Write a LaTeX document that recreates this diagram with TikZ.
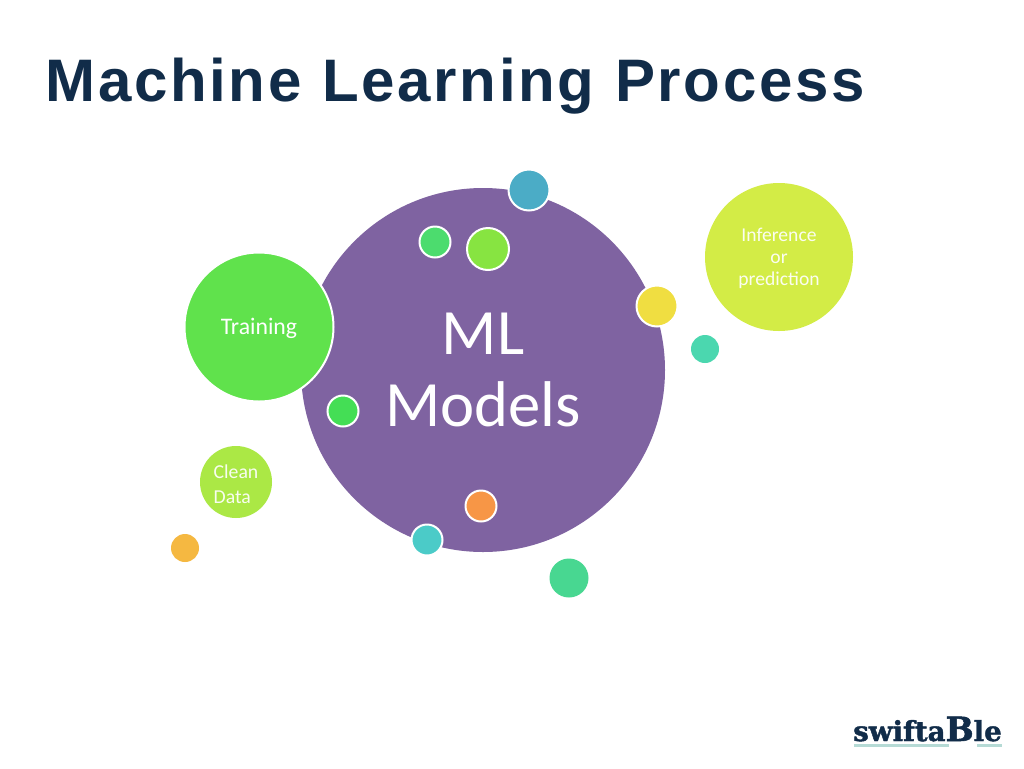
\documentclass[tikz,border=0pt]{standalone}
\usepackage{fontspec}
\setmainfont{Carlito}
\newfontfamily\titlefont[WordSpace=1.08]{Liberation Sans}
\newfontfamily\logofont[BoldFeatures={FakeBold=1.5}]{DejaVu Serif}
\usepackage{xcolor}
\definecolor{titleblue}{HTML}{112C49}
\definecolor{mlpurple}{HTML}{7F63A1}
\definecolor{trainc}{HTML}{60E24C}
\definecolor{cleanc}{HTML}{ABE845}
\definecolor{inferc}{HTML}{D3EC46}
\definecolor{logoline}{HTML}{B5DAD5}

\begin{document}
\begin{tikzpicture}[
  x=0.75pt, y=-0.75pt,
  bubble/.style={circle, inner sep=0pt, minimum size=#1*0.75pt},
  ring/.style={bubble=#1, draw=white, line width=1.5pt},
  caption/.style={align=center, inner sep=0pt, text=white}
]
\useasboundingbox[fill=white] (0,0) rectangle (1024,768);
\node[anchor=base west, font=\titlefont\bfseries\fontsize{45}{45}\selectfont, text=titleblue,
      inner sep=0pt] (title) at (45.5,101) {\addfontfeature{LetterSpace=4.4}Machine Learning Process};
% main bubble and the big ones
\node[bubble=364, fill=mlpurple] (ml) at (483,370) {};
\node[ring=149, fill=trainc] (train) at (259,327) {};
\node[bubble=72, fill=cleanc] (clean) at (236,482) {};
\node[bubble=148, fill=inferc] (infer) at (779,257) {};
% small bubbles
\node[ring=41, fill={rgb,255:red,75;green,172;blue,198}] (dotblue) at (529,190) {};
\node[ring=31, fill={rgb,255:red,76;green,220;blue,110}] (dotgreena) at (435,242) {};
\node[ring=42, fill={rgb,255:red,135;green,228;blue,65}] (dotlime) at (488,249) {};
\node[ring=41, fill={rgb,255:red,240;green,222;blue,65}] (dotyellow) at (657,306) {};
\node[ring=31, fill={rgb,255:red,68;green,222;blue,85}] (dotgreenb) at (343,411) {};
\node[ring=31, fill={rgb,255:red,247;green,150;blue,70}] (dotorange) at (481,506) {};
\node[ring=31, fill={rgb,255:red,75;green,203;blue,200}] (dotcyan) at (427,540) {};
\node[bubble=28, fill={rgb,255:red,245;green,184;blue,65}] (dotamber) at (185,548) {};
\node[bubble=28, fill={rgb,255:red,75;green,215;blue,175}] (dotteal) at (705,349) {};
\node[bubble=39, fill={rgb,255:red,72;green,215;blue,145}] (dotmint) at (569,578) {};
% text of the bubbles
\node[caption, font=\fontsize{48.5}{54}\selectfont] (mltext) at (483,369.5) {ML\\Models};
\node[caption, font=\fontsize{17.8}{19}\selectfont] (traintext) at (259,328) {Training};
\node[caption, font=\fontsize{14.8}{18.5}\selectfont, align=left, text=white!92!cleanc] (cleantext) at (236,484) {Clean\\Data};
\node[caption, font=\fontsize{14.7}{16.5}\selectfont, text=white!92!inferc] (infertext) at (779,258.5) {Inference\\or\\prediction};
% logo
\fill[logoline] (854,744) rectangle (949,747);
\fill[logoline] (977,744) rectangle (1002,747);
\node[anchor=base west, inner sep=0pt, text=titleblue, font=\logofont\bfseries\fontsize{20.7}{20.7}\selectfont] (logo)
  at (853,741) {swifta{\fontsize{25}{25}\selectfont B}le};
\end{tikzpicture}
\end{document}
